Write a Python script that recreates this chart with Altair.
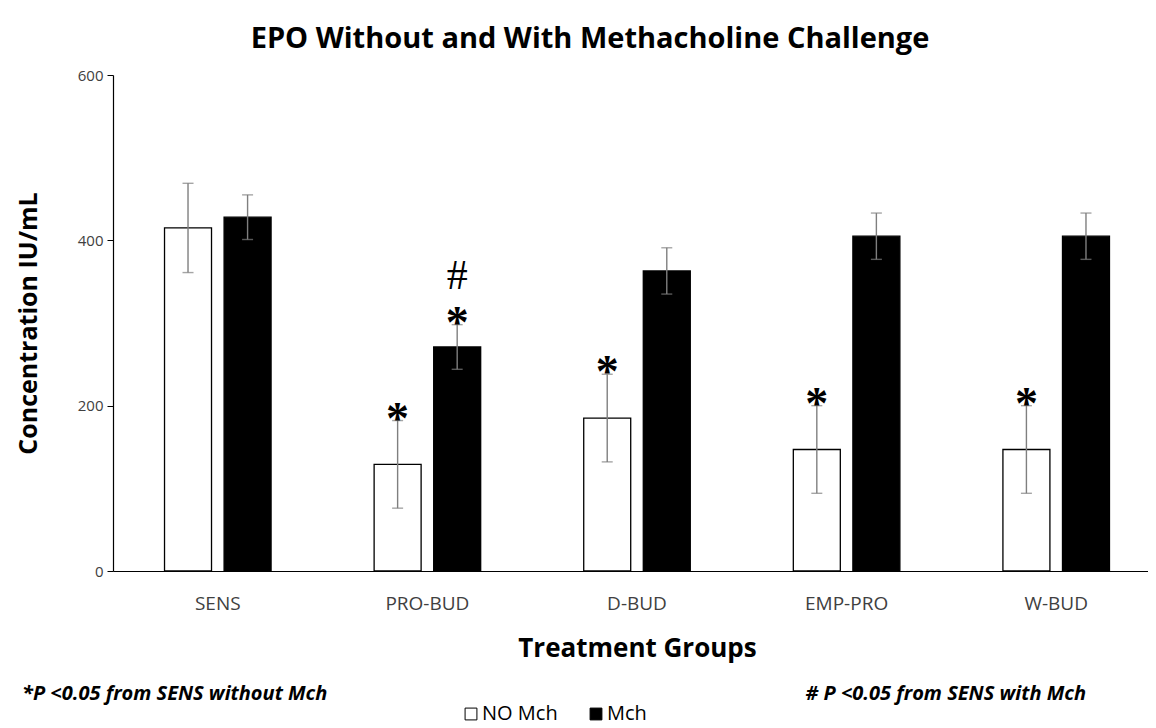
import altair as alt
import pandas as pd

groups = ["SENS", "PRO-BUD", "D-BUD", "EMP-PRO", "W-BUD"]
series = ["NO Mch", "Mch"]
no_mch = [415, 129, 185, 147, 147]
no_mch_err = [54, 53, 53, 53, 53]
mch = [428, 271, 363, 405, 405]
mch_err = [27, 27, 28, 28, 28]

star_groups = ["PRO-BUD", "D-BUD", "EMP-PRO", "W-BUD", "PRO-BUD"]
star_series = ["NO Mch", "NO Mch", "NO Mch", "NO Mch", "Mch"]
hash_groups = ["PRO-BUD"]
hash_series = ["Mch"]

title_text = "EPO Without and With Methacholine Challenge"
y_title = "Concentration IU/mL"
x_title = "Treatment Groups"
note_left = "*P <0.05 from SENS without Mch"
note_right = "# P <0.05 from SENS with Mch"

rows = []
for i, g in enumerate(groups):
    rows.append({"group": g, "series": "NO Mch", "value": no_mch[i], "err": no_mch_err[i]})
    rows.append({"group": g, "series": "Mch", "value": mch[i], "err": mch_err[i]})
df = pd.DataFrame(rows)
df["lo"] = df["value"] - df["err"]
df["hi"] = df["value"] + df["err"]

def lookup(gs, ss):
    out = []
    for g, s in zip(gs, ss):
        r = df[(df.group == g) & (df.series == s)].iloc[0]
        out.append({"group": g, "series": s, "hi": r["hi"]})
    return pd.DataFrame(out)

stars = lookup(star_groups, star_series)
stars["sym"] = "*"
hashes = lookup(hash_groups, hash_series)
hashes["sym"] = "#"

FONT = "Open Sans"

x_enc = alt.X("group:N", sort=groups,
              scale=alt.Scale(range=[0, 1048], paddingInner=0, paddingOuter=0),
              axis=alt.Axis(title=x_title, labelAngle=0, ticks=False, labelPadding=23,
                            labelFontSize=19, labelColor="#404040", labelFont=FONT,
                            titleFontSize=26, titleFont=FONT, titleFontWeight="bold",
                            titleColor="#000000", titlePadding=22, grid=False,
                            domainColor="#000000", domainWidth=1.2))
xo_enc = alt.XOffset("series:N", sort=series,
                     scale=alt.Scale(domain=series, paddingInner=0.211, paddingOuter=0.865))
y_scale = alt.Scale(domain=[0, 600], nice=False)

bars = alt.Chart(df).mark_bar(stroke="#000000", strokeWidth=1.3).encode(
    x=x_enc,
    xOffset=xo_enc,
    y=alt.Y("value:Q", scale=y_scale,
            axis=alt.Axis(title=y_title, values=[0, 200, 400, 600], grid=False,
                          tickSize=6, tickColor="#000000", domainColor="#000000",
                          domainWidth=1.2, labelFontSize=15, labelColor="#404040",
                          labelFont=FONT, labelPadding=4,
                          titleFontSize=25, titleFont=FONT, titleFontWeight="bold",
                          titleColor="#000000", titlePadding=36)),
    fill=alt.Fill("series:N", sort=series,
                  scale=alt.Scale(domain=series, range=["#ffffff", "#000000"]),
                  legend=alt.Legend(title=None, orient="none", legendX=348, legendY=629,
                                    direction="horizontal", symbolType="square",
                                    symbolSize=140, symbolStrokeColor="#000000",
                                    symbolStrokeWidth=1, labelFontSize=20,
                                    labelFont=FONT, labelColor="#000000",
                                    columnPadding=28, labelOffset=1)),
)

err_rule = alt.Chart(df).mark_rule(color="#7f7f7f", strokeWidth=1.4).encode(
    x=alt.X("group:N", sort=groups), xOffset=alt.XOffset("series:N", sort=series),
    y="lo:Q", y2="hi:Q")
err_lo = alt.Chart(df).mark_tick(color="#7f7f7f", thickness=1.4, size=11).encode(
    x=alt.X("group:N", sort=groups), xOffset=alt.XOffset("series:N", sort=series),
    y="lo:Q")
err_hi = alt.Chart(df).mark_tick(color="#7f7f7f", thickness=1.4, size=11).encode(
    x=alt.X("group:N", sort=groups), xOffset=alt.XOffset("series:N", sort=series),
    y="hi:Q")

star_text = alt.Chart(stars).mark_text(font="Liberation Serif", fontWeight="bold",
                                       fontSize=46, baseline="alphabetic", dy=13,
                                       color="#000000").encode(
    x=alt.X("group:N", sort=groups), xOffset=alt.XOffset("series:N", sort=series),
    y="hi:Q", text="sym:N")
hash_text = alt.Chart(hashes).mark_text(font="Liberation Serif", fontSize=42,
                                        baseline="alphabetic", dy=-36,
                                        color="#000000").encode(
    x=alt.X("group:N", sort=groups), xOffset=alt.XOffset("series:N", sort=series),
    y="hi:Q", text="sym:N")

def label(txt, xpx, ypx, size, weight="normal", style="normal", align="center"):
    return alt.Chart(pd.DataFrame({"t": [txt]})).mark_text(
        font=FONT, fontSize=size, fontWeight=weight, fontStyle=style, align=align,
        baseline="middle", color="#000000").encode(
        x=alt.value(xpx), y=alt.value(ypx), text="t:N")

title = label(title_text, 477, -36, 29, weight="bold")
nl = label(note_left, -91, 619, 20, weight="bold", style="italic", align="left")
nr = label(note_right, 973, 619, 20, weight="bold", style="italic", align="right")

chart = alt.layer(bars, err_rule, err_lo, err_hi, star_text, hash_text, title, nl, nr).properties(
    width=1035, height=496,
    background="#ffffff",
    autosize=alt.AutoSizeParams(type="none"),
    padding={"left": 105, "top": 67, "right": 0, "bottom": 157},
).configure_view(strokeWidth=0, strokeOpacity=0).configure_axis(grid=False)

chart.save("out.html", embed_options={"renderer": "svg", "actions": False})
